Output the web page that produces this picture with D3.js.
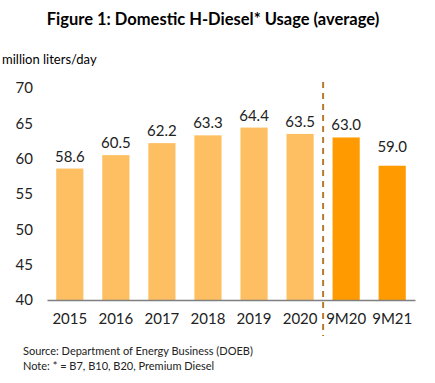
<html>
<head>
    <title>Domestic H-Diesel Usage</title>
    <style>
        body{ margin: 0; background: #fff; }
        svg{ display: block; font-family: Lato, "Open Sans", sans-serif; }
    </style>
</head>
<body>
    <script src="https://d3js.org/d3.v7.min.js"></script>
    <svg></svg>
    <script>

    let categories = ["2015", "2016", "2017", "2018", "2019", "2020", "9M20", "9M21"];
    let usage = [58.6, 60.5, 62.2, 63.3, 64.4, 63.5, 63.0, 59.0];
    let yTicks = [40, 45, 50, 55, 60, 65, 70];

    let width = 435;
    let height = 383;

    let svg = d3.select("svg")
        .attr("width", width)
        .attr("height", height);

    var x = d3.scaleBand()
        .domain(categories)
        .range([47, 415])
        .paddingInner(0.41)
        .paddingOuter(0.2);

    var y = d3.scaleLinear()
        .domain([40, 70])
        .range([300, 88]);

    // title
    svg.append("text")
        .attr("x", 213)
        .attr("y", 25)
        .attr("text-anchor", "middle")
        .style("font-weight", "bold")
        .style("font-size", "16.5px")
        .text("Figure 1: Domestic H-Diesel* Usage (average)");

    svg.append("text")
        .attr("x", 2)
        .attr("y", 64)
        .style("font-size", "13px")
        .text("million liters/day");

    // y axis, labels only
    let yAxis = svg.append("g")
        .attr("transform", "translate(33,0)")
        .call(d3.axisLeft(y).tickValues(yTicks).tickSize(0).tickPadding(0));
    yAxis.select(".domain").remove();
    yAxis.selectAll("text")
        .style("font-family", "Lato, 'Open Sans', sans-serif")
        .style("font-size", "15px")
        .attr("fill", "#222");

    // bars
    svg.selectAll(".bar")
        .data(usage)
        .enter().append("rect")
        .attr("class", "bar")
        .attr("x", (d, i) => x(categories[i]))
        .attr("width", x.bandwidth())
        .attr("y", d => y(d))
        .attr("height", d => y(40) - y(d))
        .style("fill", (d, i) => categories[i].startsWith("9M") ? "#FF9A00" : "#FDBF62");

    svg.selectAll(".val")
        .data(usage)
        .enter().append("text")
        .attr("class", "val")
        .attr("x", (d, i) => x(categories[i]) + x.bandwidth() / 2)
        .attr("y", (d, i) => y(d) - (categories[i] == "9M21" ? 14 : 7))
        .attr("text-anchor", "middle")
        .style("font-size", "15px")
        .attr("fill", "#222")
        .text(d => d.toFixed(1));

    // x axis
    let xAxis = svg.append("g")
        .attr("transform", "translate(0,300)")
        .call(d3.axisBottom(x).tickSize(0).tickPadding(13));
    xAxis.select(".domain").attr("stroke", "#7f7f7f").attr("stroke-width", 1.3);
    xAxis.selectAll("text")
        .style("font-family", "Lato, 'Open Sans', sans-serif")
        .style("font-size", "15px")
        .attr("fill", "#222");

    // divider between full years and 9M
    let divX = (x("2020") + x.bandwidth() + x("9M20")) / 2;
    svg.append("line")
        .attr("x1", divX).attr("x2", divX)
        .attr("y1", 82).attr("y2", 336)
        .attr("stroke", "#B87A2E")
        .attr("stroke-width", 2)
        .attr("stroke-dasharray", "6,5");

    // footnotes
    svg.append("text")
        .attr("x", 23).attr("y", 355)
        .style("font-size", "11px")
        .attr("fill", "#222")
        .text("Source: Department of Energy Business (DOEB)");
    svg.append("text")
        .attr("x", 23).attr("y", 370)
        .style("font-size", "11px")
        .attr("fill", "#222")
        .text("Note: * = B7, B10, B20, Premium Diesel");

    </script>
</body>
</html>
